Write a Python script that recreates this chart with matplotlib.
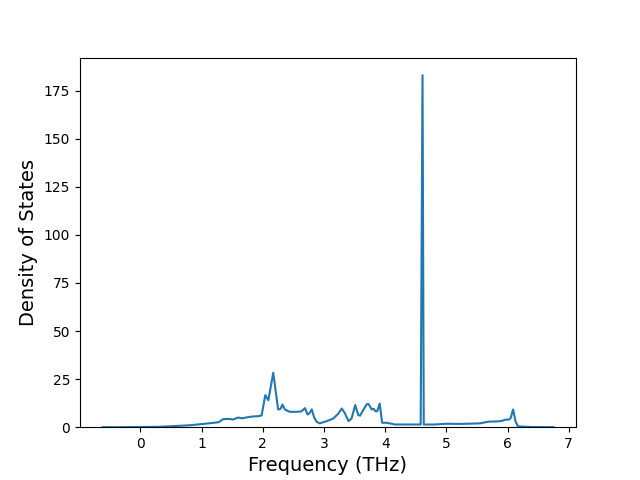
import matplotlib
matplotlib.use("Agg")
import matplotlib.pyplot as plt

freq = [-0.62, -0.3, 0.0, 0.3, 0.5, 0.8, 1.0, 1.2, 1.28, 1.35, 1.45, 1.52, 1.56, 1.60, 1.66,
        1.72, 1.79, 1.85, 1.92, 1.98, 2.04, 2.09, 2.17, 2.25, 2.29, 2.32, 2.36, 2.44, 2.55,
        2.63, 2.69, 2.73, 2.76, 2.80, 2.84, 2.88, 2.93, 3.04, 3.15, 3.23, 3.29, 3.34, 3.40,
        3.45, 3.51, 3.56, 3.59, 3.64, 3.70, 3.73, 3.78, 3.81, 3.84, 3.87, 3.91, 3.95, 4.03,
        4.16, 4.40, 4.58, 4.61, 4.63, 4.80, 5.01, 5.20, 5.35, 5.55, 5.69, 5.83, 5.91, 5.97,
        6.02, 6.05, 6.09, 6.13, 6.17, 6.40, 6.75]
dos = [0.0, 0.0, 0.1, 0.2, 0.5, 1.0, 1.6, 2.3, 2.6, 4.2, 4.3, 4.0, 4.6, 5.0, 4.6,
       5.0, 5.4, 5.6, 5.7, 6.1, 16.7, 14.0, 28.3, 9.2, 9.6, 11.8, 9.2, 8.0, 8.0,
       8.2, 9.9, 6.6, 7.2, 9.2, 5.0, 2.8, 2.0, 3.1, 4.5, 6.9, 9.7, 7.3, 3.2,
       4.5, 11.5, 6.3, 6.0, 8.9, 12.0, 12.0, 9.2, 9.6, 8.3, 8.3, 12.3, 2.3, 2.3,
       1.4, 1.4, 1.4, 183.0, 1.4, 1.4, 1.8, 1.7, 1.8, 2.0, 2.9, 3.0, 3.3, 4.0,
       3.9, 4.7, 9.2, 3.0, 0.4, 0.1, 0.0]

fig, ax = plt.subplots(figsize=(6.4, 4.8), dpi=100)
ax.plot(freq, dos, color="#1f77b4")
ax.set_ylim(bottom=0)
ax.set_xlabel("Frequency (THz)", fontsize=14)
ax.set_ylabel("Density of States", fontsize=14)
fig.savefig("out.png")
